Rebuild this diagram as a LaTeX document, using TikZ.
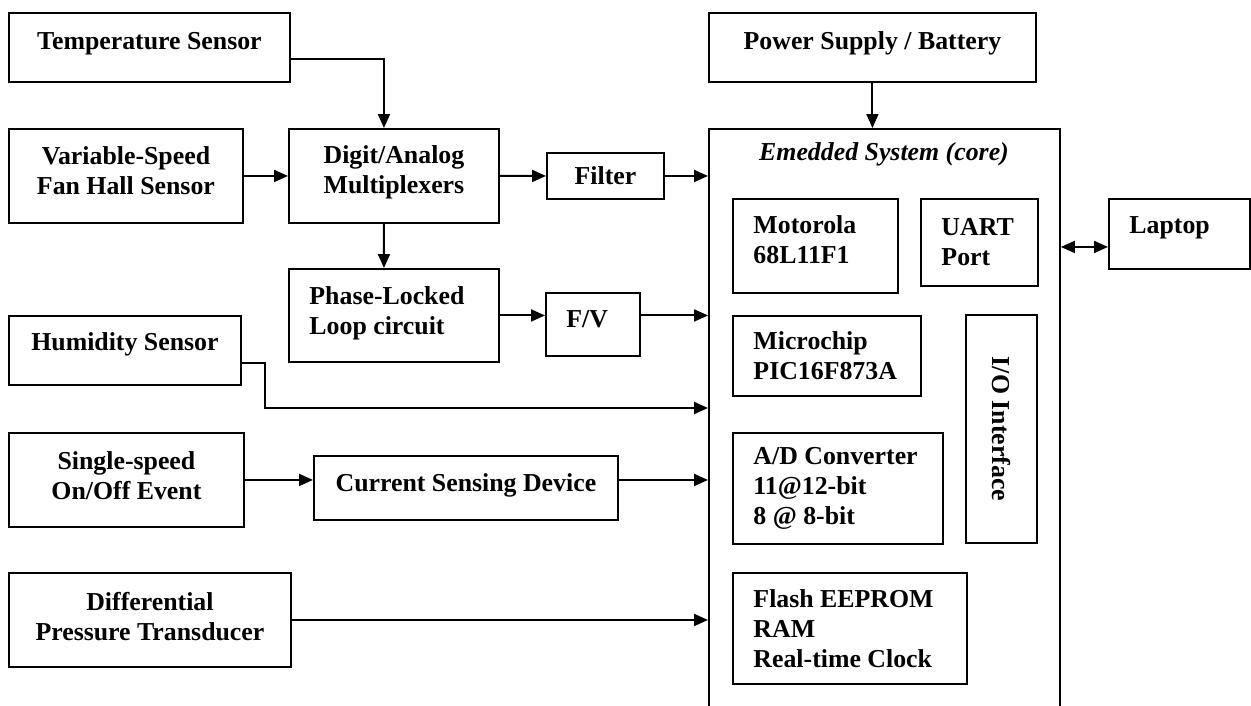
\documentclass[tikz,border=0pt]{standalone}
\usepackage{fontspec}
\setmainfont{Liberation Serif}
\usetikzlibrary{arrows.meta, positioning}
\newcommand{\txtdrop}[1]{\rule[-#1]{0pt}{#1}}
\tikzset{
    block/.style={
        rectangle, draw=black, line width=1.1pt, anchor=north west, inner sep=0pt,
        align=center, font=\fontsize{14.7}{17.1}\selectfont\bfseries
    },
    lblock/.style={
        block, align=flush left, inner xsep=0.41cm, text width=#1
    },
    heading/.style={
        font=\fontsize{14.7}{17.1}\selectfont\bfseries\itshape
    },
    arrow/.style={
        line width=1.1pt, -{Triangle[length=0.28cm, width=0.24cm]}
    },
    darrow/.style={
        line width=1.1pt, {Triangle[length=0.28cm, width=0.24cm]}-{Triangle[length=0.28cm, width=0.24cm]}
    }
}
\begin{document}
\begin{tikzpicture}[x=0.02cm, y=-0.02cm]
    \useasboundingbox (0,0) rectangle (1251,706);
    % sensors and signal conditioning
    \node[block, minimum width=5.62cm, minimum height=1.38cm] (temp) at (8,12) {Temperature Sensor\txtdrop{0.28cm}};
    \node[block, minimum width=4.68cm, minimum height=1.88cm] (fan) at (8,128) {Variable-Speed\\Fan Hall Sensor\txtdrop{0.2cm}};
    \node[block, minimum width=4.20cm, minimum height=1.88cm] (mux) at (288,128) {Digit/Analog\\Multiplexers\txtdrop{0.24cm}};
    \node[block, minimum width=2.34cm, minimum height=0.92cm] (filter) at (546,152) {Filter};
    \node[lblock=3.38cm, minimum width=4.20cm, minimum height=1.86cm] (pll) at (288,268) {Phase-Locked\\Loop circuit\txtdrop{0.2cm}};
    \node[lblock=1.06cm, minimum width=1.88cm, minimum height=1.26cm] (fv) at (545,292) {F/V\txtdrop{0.2cm}};
    \node[block, minimum width=4.64cm, minimum height=1.38cm] (hum) at (8,315) {Humidity Sensor\txtdrop{0.34cm}};
    \node[block, minimum width=4.70cm, minimum height=1.88cm] (onoff) at (8,432) {Single-speed\\On/Off Event\txtdrop{0.18cm}};
    \node[block, minimum width=6.08cm, minimum height=1.28cm] (csd) at (313,455) {Current Sensing Device\txtdrop{0.22cm}};
    \node[block, minimum width=5.64cm, minimum height=1.88cm] (dpt) at (8,572) {Differential\\Pressure Transducer\txtdrop{0.14cm}};

    % embedded system
    \node[block, minimum width=6.54cm, minimum height=1.38cm] (power) at (708,12) {Power Supply / Battery\txtdrop{0.28cm}};
    \node[block, minimum width=7.02cm, minimum height=11.68cm] (core) at (708,128) {};
    \node[heading] (coretitle) at (884,154) {Emedded System (core)};
    \node[lblock=2.48cm, minimum width=3.30cm, minimum height=1.88cm] (moto) at (732,198) {Motorola\\68L11F1\txtdrop{0.24cm}};
    \node[lblock=1.52cm, minimum width=2.34cm, minimum height=1.74cm] (uart) at (920,198) {UART\\Port};
    \node[lblock=2.00cm, minimum width=2.82cm, minimum height=1.40cm] (laptop) at (1108,198) {Laptop\txtdrop{0.36cm}};
    \node[lblock=2.94cm, minimum width=3.76cm, minimum height=1.60cm] (micro) at (732,315) {Microchip\\PIC16F873A};
    \node[block, anchor=center, rotate=-90, minimum width=4.56cm, minimum height=1.42cm] (io) at (1001.5,429) {I/O Interface};
    \node[lblock=3.38cm, minimum width=4.20cm, minimum height=2.22cm] (adc) at (732,432) {A/D Converter\\11@12-bit\\8 @ 8-bit};
    \node[lblock=3.86cm, minimum width=4.68cm, minimum height=2.22cm] (flash) at (732,572) {Flash EEPROM\\RAM\\Real-time Clock};

    \coordinate (tempout) at ([yshift=-0.23cm]temp.east);
    \coordinate (humout) at ([yshift=-0.25cm]hum.east);
    \coordinate (humbend) at (265,408);
    \coordinate (lapin) at ([yshift=-0.26cm]laptop.west);

    \draw[arrow] (tempout) -| ([xshift=-0.2cm]mux.north);
    \draw[arrow] (fan) -- (mux);
    \draw[arrow] (mux) -- (filter);
    \draw[arrow] (filter) -- (filter -| core.west);
    \draw[arrow] ([xshift=-0.2cm]mux.south) -- ([xshift=-0.2cm]pll.north);
    \draw[arrow] (pll) -- (pll -| fv.west);
    \draw[arrow] (pll -| fv.east) -- (pll -| core.west);
    \draw[arrow] (humout) -| (humbend) -- (humbend -| core.west);
    \draw[arrow] (onoff) -- (onoff -| csd.west);
    \draw[arrow] (onoff -| csd.east) -- (onoff -| core.west);
    \draw[arrow] (dpt) -- (dpt -| core.west);
    \draw[arrow] (power) -- (power |- core.north);
    \draw[darrow] (lapin) -- (lapin -| core.east);
\end{tikzpicture}
\end{document}
